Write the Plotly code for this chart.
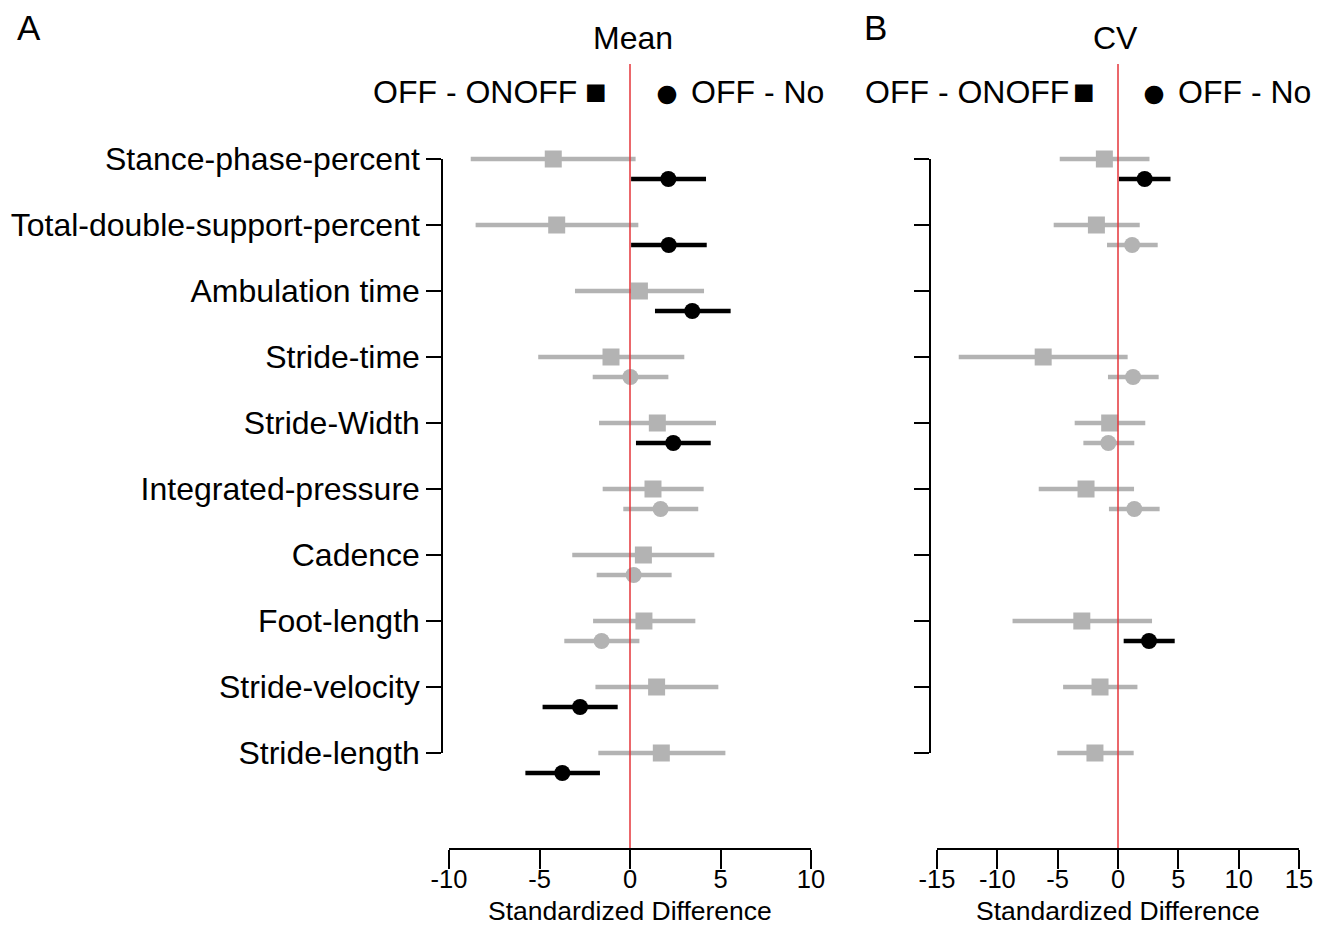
import plotly.graph_objects as go

categories = ["Stance-phase-percent", "Total-double-support-percent", "Ambulation time",
              "Stride-time", "Stride-Width", "Integrated-pressure", "Cadence",
              "Foot-length", "Stride-velocity", "Stride-length"]

# Panel A: Mean
mean_onoff_est = [-4.24, -4.05, 0.52, -1.05, 1.51, 1.27, 0.74, 0.77, 1.47, 1.73]
mean_onoff_lo = [-8.80, -8.53, -3.04, -5.07, -1.71, -1.51, -3.19, -2.04, -1.91, -1.75]
mean_onoff_hi = [0.31, 0.46, 4.09, 3.00, 4.75, 4.07, 4.66, 3.61, 4.88, 5.27]
mean_no_est = [2.12, 2.14, 3.44, 0.02, 2.39, 1.69, 0.20, -1.57, -2.76, -3.74]
mean_no_lo = [0.06, 0.06, 1.38, -2.06, 0.33, -0.37, -1.84, -3.63, -4.83, -5.78]
mean_no_hi = [4.20, 4.24, 5.56, 2.12, 4.46, 3.77, 2.30, 0.52, -0.68, -1.66]

# Panel B: CV
cv_onoff_est = [-1.13, -1.79, None, -6.20, -0.69, -2.65, None, -3.00, -1.49, -1.91]
cv_onoff_lo = [-4.83, -5.33, None, -13.20, -3.59, -6.57, None, -8.74, -4.55, -5.03]
cv_onoff_hi = [2.61, 1.80, None, 0.80, 2.26, 1.33, None, 2.82, 1.61, 1.30]
cv_no_est = [2.21, 1.17, None, 1.25, -0.80, 1.35, None, 2.57, None, None]
cv_no_lo = [0.08, -0.91, None, -0.83, -2.87, -0.75, None, 0.47, None, None]
cv_no_hi = [4.35, 3.29, None, 3.37, 1.35, 3.45, None, 4.70, None, None]

x_ticks_a = [-10, -5, 0, 5, 10]
x_ticks_b = [-15, -10, -5, 0, 5, 10, 15]

W, H = 1329, 930
FONT = "Liberation Sans, Arial, sans-serif"
GRAY = "#b3b3b3"
BLACK = "#000000"
CIRCLE_OFFSET = 0.303


def px(x):
    return x / W


def py(y):
    return 1 - y / H


fig = go.Figure()


def add_group(est, lo, hi, symbol, size, offset, xaxis, yaxis):
    groups = {GRAY: ([], [], [], []), BLACK: ([], [], [], [])}
    for i, (e, l, h) in enumerate(zip(est, lo, hi)):
        if e is None:
            continue
        col = BLACK if (l > 0 or h < 0) else GRAY
        g = groups[col]
        g[0].append(e)
        g[1].append(i + 1 + offset)
        g[2].append(h - e)
        g[3].append(e - l)
    for col, (xs, ys, ep, em) in groups.items():
        if not xs:
            continue
        fig.add_trace(go.Scatter(
            x=xs, y=ys, mode="markers", xaxis=xaxis, yaxis=yaxis,
            marker=dict(symbol=symbol, size=size, color=col, line=dict(width=0)),
            error_x=dict(type="data", symmetric=False, array=ep, arrayminus=em,
                         color=col, thickness=4.5, width=0),
            showlegend=False, hoverinfo="skip", cliponaxis=False))


add_group(mean_onoff_est, mean_onoff_lo, mean_onoff_hi, "square", 17, 0, "x", "y")
add_group(mean_no_est, mean_no_lo, mean_no_hi, "circle", 16, CIRCLE_OFFSET, "x", "y")
add_group(cv_onoff_est, cv_onoff_lo, cv_onoff_hi, "square", 17, 0, "x2", "y3")
add_group(cv_no_est, cv_no_lo, cv_no_hi, "circle", 16, CIRCLE_OFFSET, "x2", "y3")

# invisible traces so the tick-only category axes are drawn
for xa, ya in (("x", "y2"), ("x2", "y4")):
    fig.add_trace(go.Scatter(x=[0], y=[1], xaxis=xa, yaxis=ya, mode="markers",
                             marker=dict(size=1, opacity=0), showlegend=False,
                             hoverinfo="skip"))

# data y axes: domain px 64..848, category 1 at px 159, 66 px per unit
top_px, bot_px, cat1_px, step = 64, 848, 159, 66
r_top = 1 - (cat1_px - top_px) / step
r_bot = r_top + (bot_px - top_px) / step

data_y = dict(domain=[py(bot_px), py(top_px)], range=[r_bot, r_top], visible=False,
              showgrid=False, zeroline=False)
tick_y = dict(domain=[py(cat1_px + 9 * step), py(cat1_px)], range=[10, 1],
              anchor="free", tickmode="array", tickvals=list(range(1, 11)),
              showline=True, linecolor="black", linewidth=1.5, ticks="outside",
              ticklen=15, tickwidth=1.5, tickcolor="black", showgrid=False,
              zeroline=False, automargin=False,
              tickfont=dict(family=FONT, size=32, color="black"))

xcommon = dict(showline=True, linecolor="black", linewidth=1.5, ticks="outside",
               ticklen=19, tickwidth=1.5, tickcolor="black", showgrid=False,
               zeroline=False, automargin=False, ticklabelstandoff=-11,
               tickfont=dict(family=FONT, size=25.5, color="black"),
               tickmode="array")

fig.update_layout(
    width=W, height=H, margin=dict(l=0, r=0, t=0, b=0, pad=0, autoexpand=False),
    autosize=False,
    paper_bgcolor="white", plot_bgcolor="rgba(0,0,0,0)",
    font=dict(family=FONT, color="black"),
    xaxis=dict(domain=[px(449), px(811)], range=[-10, 10], anchor="y",
               tickvals=x_ticks_a, ticktext=[str(v) for v in x_ticks_a], **xcommon),
    xaxis2=dict(domain=[px(937), px(1299)], range=[-15, 15], anchor="y3",
                tickvals=x_ticks_b, ticktext=[str(v) for v in x_ticks_b], **xcommon),
    yaxis=dict(anchor="x", **data_y),
    yaxis2=dict(position=px(442), ticktext=categories, showticklabels=True, **tick_y),
    yaxis3=dict(anchor="x2", **data_y),
    yaxis4=dict(position=px(930), ticktext=categories, showticklabels=False, **tick_y),
)

# zero reference lines
for xr, yr in (("x", "y domain"), ("x2", "y3 domain")):
    fig.add_shape(type="line", xref=xr, yref=yr, x0=0, x1=0, y0=0, y1=1,
                  line=dict(color="#e4343a", width=1.5), layer="above")

ann = []
ann.append(dict(text="A", x=px(16), y=py(27.5), xanchor="left", yanchor="middle",
                font=dict(size=35)))
ann.append(dict(text="B", x=px(863), y=py(27.5), xanchor="left", yanchor="middle",
                font=dict(size=35)))
for xr in ("x", "x2"):
    ann.append(dict(text="Standardized Difference", x=0, xref=xr, y=py(911),
                    yanchor="middle", xanchor="center", font=dict(size=26.5)))
ann.append(dict(text="Mean", x=px(633), y=py(38.5), yanchor="middle",
                xanchor="center", font=dict(size=32)))
ann.append(dict(text="CV", x=px(1115.5), y=py(38.5), yanchor="middle",
                xanchor="center", font=dict(size=32)))
# legend lines: text + key glyphs
for (right_x, sq_x, ci_x, left_x) in ((578, 595.5, 666.5, 689.5),
                                      (1070, 1083.5, 1153.5, 1177)):
    ann.append(dict(text="OFF - ONOFF", x=px(right_x), y=py(91.5), xanchor="right",
                    yanchor="middle", font=dict(size=32)))
    ann.append(dict(text="\u25a0", x=px(sq_x), y=py(92), xanchor="center",
                    yanchor="middle", font=dict(size=36)))
    ann.append(dict(text="\u25cf", x=px(ci_x), y=py(92), xanchor="center",
                    yanchor="middle", font=dict(size=43)))
    ann.append(dict(text="OFF - No", x=px(left_x), y=py(91.5), xanchor="left",
                    yanchor="middle", font=dict(size=32)))
for a in ann:
    a.setdefault("xref", "paper")
    a["yref"] = "paper"
    a["showarrow"] = False
    a["borderpad"] = 0
    a["font"].update(family=FONT, color="black")
fig.update_layout(annotations=ann)

fig.write_html("out.html")
